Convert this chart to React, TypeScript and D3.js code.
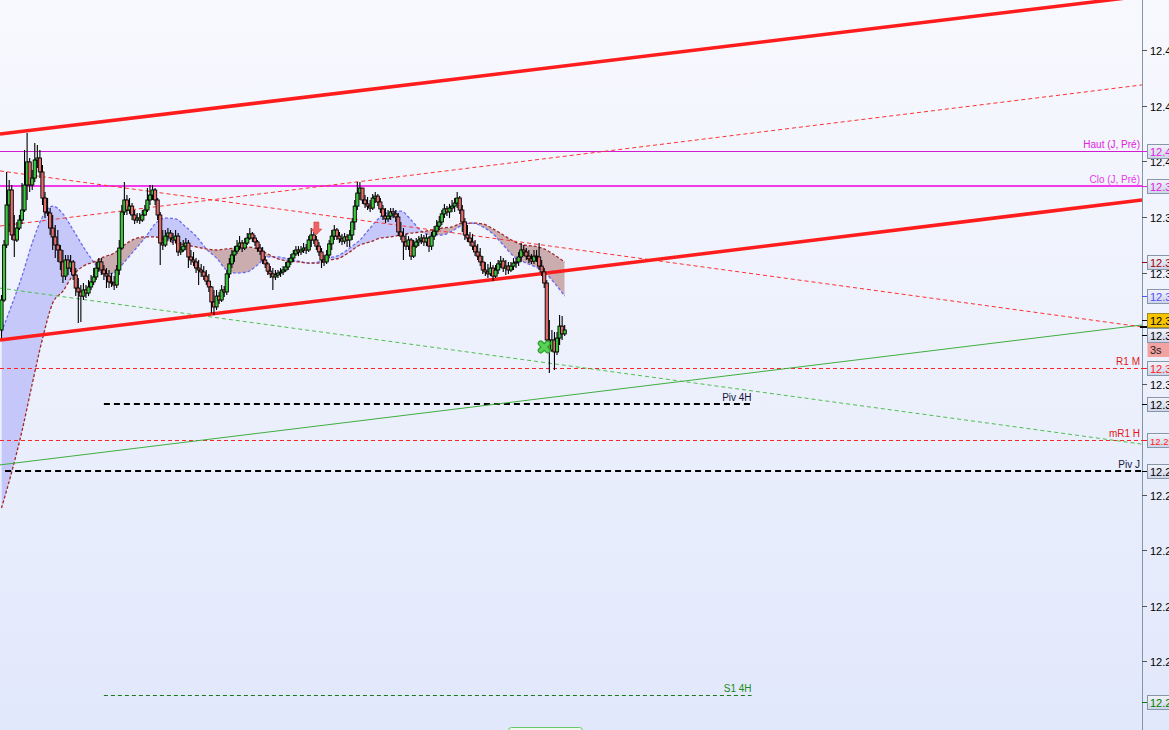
import React from "react";
import * as d3 from "d3";

if (typeof document !== "undefined") {
  document.body.style.margin = "0";
  document.body.style.overflow = "hidden";
}

const W = 1169;
const H = 730;
const AXIS_X = 1142;

// ---------- candles (price) ----------
const firstOpen = 12.3393;
const closes = [
  12.3501,12.3699,12.3843,12.3897,12.3735,12.3717,12.3760,12.3789,12.3825,12.3915,
  12.3998,12.3915,12.3940,12.4005,12.4012,12.3962,12.3868,12.3818,12.3814,12.3760,
  12.3728,12.3699,12.3681,12.3638,12.3587,12.3645,12.3616,12.3638,12.3591,12.3544,
  12.3530,12.3515,12.3537,12.3526,12.3548,12.3566,12.3584,12.3616,12.3638,12.3609,
  12.3595,12.3587,12.3566,12.3562,12.3555,12.3609,12.3688,12.3818,12.3861,12.3825,
  12.3839,12.3807,12.3789,12.3796,12.3789,12.3807,12.3825,12.3861,12.3879,12.3897,
  12.3861,12.3807,12.3706,12.3699,12.3731,12.3742,12.3724,12.3717,12.3731,12.3674,
  12.3681,12.3695,12.3706,12.3656,12.3645,12.3638,12.3616,12.3609,12.3602,12.3587,
  12.3569,12.3548,12.3494,12.3476,12.3515,12.3501,12.3537,12.3530,12.3595,12.3631,
  12.3663,12.3677,12.3695,12.3706,12.3688,12.3706,12.3724,12.3739,12.3724,12.3710,
  12.3688,12.3677,12.3645,12.3631,12.3605,12.3595,12.3584,12.3591,12.3598,12.3602,
  12.3609,12.3620,12.3638,12.3652,12.3667,12.3681,12.3674,12.3681,12.3688,12.3681,
  12.3717,12.3735,12.3717,12.3695,12.3674,12.3645,12.3638,12.3663,12.3703,12.3731,
  12.3753,12.3731,12.3721,12.3713,12.3728,12.3717,12.3735,12.3782,12.3839,12.3886,
  12.3904,12.3861,12.3847,12.3839,12.3832,12.3868,12.3875,12.3854,12.3829,12.3803,
  12.3793,12.3803,12.3818,12.3811,12.3800,12.3746,12.3731,12.3710,12.3695,12.3717,
  12.3659,12.3695,12.3710,12.3717,12.3724,12.3710,12.3724,12.3695,12.3731,12.3749,
  12.3767,12.3782,12.3811,12.3829,12.3818,12.3832,12.3839,12.3850,12.3868,12.3825,
  12.3782,12.3735,12.3724,12.3710,12.3695,12.3674,12.3659,12.3638,12.3609,12.3602,
  12.3595,12.3616,12.3587,12.3609,12.3631,12.3641,12.3616,12.3623,12.3609,12.3623,
  12.3634,12.3638,12.3656,12.3681,12.3674,12.3659,12.3649,12.3641,12.3659,12.3656,
  12.3623,12.3602,12.3562,12.3357,12.3321,12.3357,12.3314,12.3364,12.3407,12.3379,
  12.3393,
];
const highs = [
  12.3519,12.3717,12.3962,12.3933,12.3915,12.3807,12.3782,12.3807,12.3922,12.4041,
  12.4102,12.4012,12.3969,12.4066,12.4059,12.4041,12.3987,12.3890,12.3868,12.3832,
  12.3807,12.3771,12.3753,12.3699,12.3681,12.3663,12.3663,12.3663,12.3645,12.3616,
  12.3580,12.3555,12.3562,12.3555,12.3573,12.3591,12.3616,12.3638,12.3652,12.3652,
  12.3627,12.3616,12.3609,12.3598,12.3587,12.3627,12.3717,12.3843,12.3926,12.3879,
  12.3868,12.3850,12.3825,12.3814,12.3814,12.3825,12.3843,12.3904,12.3915,12.3915,
  12.3904,12.3868,12.3818,12.3753,12.3753,12.3760,12.3753,12.3742,12.3753,12.3742,
  12.3710,12.3717,12.3724,12.3717,12.3681,12.3674,12.3652,12.3645,12.3631,12.3623,
  12.3609,12.3595,12.3551,12.3537,12.3537,12.3530,12.3555,12.3551,12.3609,12.3652,
  12.3681,12.3695,12.3717,12.3731,12.3717,12.3724,12.3742,12.3760,12.3746,12.3735,
  12.3717,12.3703,12.3692,12.3659,12.3638,12.3623,12.3616,12.3609,12.3609,12.3616,
  12.3623,12.3638,12.3652,12.3667,12.3681,12.3695,12.3695,12.3695,12.3706,12.3703,
  12.3731,12.3760,12.3746,12.3731,12.3710,12.3688,12.3663,12.3681,12.3717,12.3753,
  12.3771,12.3760,12.3746,12.3739,12.3742,12.3739,12.3753,12.3796,12.3861,12.3926,
  12.3926,12.3904,12.3879,12.3872,12.3861,12.3883,12.3890,12.3883,12.3868,12.3843,
  12.3832,12.3825,12.3832,12.3832,12.3825,12.3814,12.3782,12.3760,12.3739,12.3731,
  12.3724,12.3717,12.3724,12.3731,12.3739,12.3735,12.3739,12.3731,12.3746,12.3767,
  12.3789,12.3803,12.3825,12.3847,12.3839,12.3847,12.3861,12.3868,12.3890,12.3875,
  12.3843,12.3796,12.3771,12.3746,12.3739,12.3717,12.3703,12.3688,12.3659,12.3638,
  12.3631,12.3638,12.3627,12.3627,12.3645,12.3659,12.3652,12.3645,12.3638,12.3638,
  12.3652,12.3652,12.3674,12.3706,12.3699,12.3688,12.3681,12.3667,12.3681,12.3681,
  12.3706,12.3645,12.3616,12.3573,12.3429,12.3393,12.3386,12.3386,12.3447,12.3443,
  12.3411,
];
const lows = [
  12.3364,12.3494,12.3688,12.3746,12.3717,12.3656,12.3710,12.3753,12.3775,12.3818,
  12.3861,12.3890,12.3897,12.3926,12.3976,12.3940,12.3843,12.3796,12.3803,12.3735,
  12.3681,12.3652,12.3638,12.3609,12.3562,12.3573,12.3591,12.3602,12.3573,12.3515,
  12.3418,12.3422,12.3501,12.3508,12.3515,12.3537,12.3555,12.3573,12.3602,12.3591,
  12.3573,12.3544,12.3544,12.3548,12.3537,12.3544,12.3591,12.3681,12.3807,12.3807,
  12.3811,12.3789,12.3775,12.3778,12.3775,12.3782,12.3803,12.3818,12.3843,12.3861,
  12.3843,12.3789,12.3627,12.3681,12.3692,12.3717,12.3710,12.3699,12.3706,12.3659,
  12.3663,12.3674,12.3681,12.3616,12.3627,12.3623,12.3598,12.3555,12.3584,12.3573,
  12.3555,12.3530,12.3454,12.3447,12.3465,12.3487,12.3494,12.3512,12.3519,12.3580,
  12.3616,12.3638,12.3667,12.3681,12.3674,12.3681,12.3699,12.3717,12.3710,12.3695,
  12.3674,12.3663,12.3631,12.3616,12.3591,12.3580,12.3537,12.3573,12.3580,12.3584,
  12.3591,12.3602,12.3609,12.3627,12.3638,12.3659,12.3659,12.3663,12.3670,12.3667,
  12.3674,12.3692,12.3703,12.3681,12.3659,12.3616,12.3623,12.3631,12.3652,12.3681,
  12.3717,12.3717,12.3706,12.3699,12.3703,12.3692,12.3692,12.3717,12.3753,12.3825,
  12.3861,12.3847,12.3832,12.3825,12.3818,12.3825,12.3850,12.3839,12.3814,12.3789,
  12.3778,12.3782,12.3789,12.3796,12.3782,12.3731,12.3717,12.3645,12.3681,12.3681,
  12.3645,12.3652,12.3688,12.3695,12.3703,12.3695,12.3695,12.3674,12.3681,12.3717,
  12.3735,12.3753,12.3771,12.3796,12.3803,12.3796,12.3818,12.3818,12.3832,12.3811,
  12.3746,12.3717,12.3710,12.3695,12.3681,12.3659,12.3645,12.3623,12.3595,12.3587,
  12.3580,12.3587,12.3569,12.3580,12.3595,12.3616,12.3602,12.3591,12.3595,12.3602,
  12.3609,12.3616,12.3623,12.3638,12.3659,12.3645,12.3634,12.3631,12.3631,12.3638,
  12.3609,12.3587,12.3544,12.3339,12.3238,12.3314,12.3249,12.3303,12.3339,12.3357,
  12.3371,
];

// ---------- moving averages (one value every 4 candles) ----------
const maStep = 4;
const maFast = [
  12.3386,12.3483,12.3587,12.3706,12.3800,12.3839,12.3811,12.3753,12.3692,12.3638,
  12.3595,12.3598,12.3638,12.3681,12.3724,12.3775,12.3796,12.3793,12.3764,12.3731,
  12.3685,12.3652,12.3609,12.3598,12.3602,12.3627,12.3656,12.3656,12.3649,12.3641,
  12.3634,12.3638,12.3652,12.3663,12.3688,12.3717,12.3760,12.3800,12.3818,12.3821,
  12.3789,12.3749,12.3735,12.3735,12.3749,12.3771,12.3778,12.3764,12.3739,12.3699,
  12.3659,12.3638,12.3623,12.3602,12.3562,12.3515,
];
const maSlow = [
  12.2752,12.2882,12.3029,12.3199,12.3361,12.3490,12.3533,12.3591,12.3623,12.3638,
  12.3656,12.3670,12.3699,12.3721,12.3728,12.3728,12.3717,12.3706,12.3699,12.3692,
  12.3685,12.3681,12.3685,12.3688,12.3692,12.3685,12.3667,12.3649,12.3641,12.3638,
  12.3634,12.3634,12.3645,12.3652,12.3674,12.3699,12.3710,12.3724,12.3728,12.3735,
  12.3742,12.3746,12.3753,12.3760,12.3764,12.3778,12.3778,12.3775,12.3757,12.3735,
  12.3713,12.3699,12.3695,12.3685,12.3663,12.3638,
];

// ---------- trend lines: prices at two candle indices ----------
const trendAnchors = [0, 440];
const trendUpperThick = [12.4099, 12.4589];
const trendLowerThick = [12.3358, 12.3855];
const trendRedDashUp = [12.3768, 12.4269];
const trendRedDashDown = [12.3965, 12.3411];
const trendGreenDash = [12.3543, 12.2989];
const trendGreenSolid = [12.2908, 12.3405];

// ---------- horizontal levels ----------
const levelNames = ["Haut (J, Pré)", "Clo (J, Pré)", "R1 M", "Piv 4H", "mR1 H", "Piv J", "S1 4H"];
const levelPrices = [12.4037, 12.3911, 12.3256, 12.3127, 12.2997, 12.2885, 12.2079];
const levelStartIdx: (number | null)[] = [null, null, null, 40, null, 1.4, 40];
const levelEndIdx: (number | null)[] = [null, null, null, 293, null, null, 293];

// ---------- axis ----------
const tickValues = [12.44, 12.42, 12.40, 12.38, 12.36, 12.32, 12.28, 12.26, 12.24, 12.22];
const boxKeys = ["haut", "clo", "maSlow", "maFast", "bid", "last", "r1m", "piv4h", "mr1h", "pivj", "s14h"];
const boxPrices = [12.4037, 12.3911, 12.3638, 12.3515, 12.3429, 12.3375, 12.3256, 12.3127, 12.2997, 12.2885, 12.2054];
const timerLabel = "3s";
const timerPrice = 12.3321;

// ---------- signals ----------
const arrowIdx = 123;
const arrowPrice = 12.3735;
const crossIdx = 212;
const crossPrice = 12.3332;

// ---------- styles ----------
const levelStyle: Record<string, { stroke: string; width: number; dash?: string; text: string }> = {
  "Haut (J, Pré)": { stroke: "#d21ad2", width: 1, text: "#e020e0" },
  "Clo (J, Pré)": { stroke: "#f03af0", width: 2, text: "#e83ae8" },
  "R1 M": { stroke: "#ff2424", width: 1, dash: "4 3", text: "#e01818" },
  "Piv 4H": { stroke: "#000000", width: 2, dash: "6 4", text: "#14143c" },
  "mR1 H": { stroke: "#ff2424", width: 1, dash: "4 3", text: "#e01818" },
  "Piv J": { stroke: "#000000", width: 2, dash: "6 4", text: "#14143c" },
  "S1 4H": { stroke: "#1a7a1a", width: 1, dash: "4 3", text: "#1a8a1a" },
};
const boxStyle: Record<string, { text: string; fill?: string; stroke?: string; size?: number }> = {
  haut: { text: "#e020e0" },
  clo: { text: "#e020e0" },
  maSlow: { text: "#a00000" },
  maFast: { text: "#5050ff" },
  bid: { text: "#000000", fill: "#f7c500", stroke: "#a08a30" },
  last: { text: "#000000" },
  r1m: { text: "#ff2020" },
  piv4h: { text: "#000000" },
  mr1h: { text: "#ff2020", size: 9.5 },
  pivj: { text: "#000000" },
  s14h: { text: "#008000" },
};

const x = d3.scaleLinear().domain([0, 220]).range([1.5, 564.7]);
const y = d3.scaleLinear().domain([12.4581, 12.1953]).range([0, H]);

const FONT = "'Liberation Sans', Arial, sans-serif";

function trendPath(p: number[]) {
  const t0 = x.invert(0);
  const t1 = x.invert(AXIS_X);
  const val = (t: number) => p[0] + ((p[1] - p[0]) * (t - trendAnchors[0])) / (trendAnchors[1] - trendAnchors[0]);
  return `M${x(t0)},${y(val(t0))}L${x(t1)},${y(val(t1))}`;
}

export default function App() {
  const maX = (_: number, k: number) => x(k * maStep);
  const fastLine = d3.line<number>().x(maX).y((d) => y(d)).curve(d3.curveMonotoneX)(maFast) || "";
  const slowLine = d3.line<number>().x(maX).y((d) => y(d)).curve(d3.curveMonotoneX)(maSlow) || "";
  const between =
    d3
      .area<number>()
      .x(maX)
      .y0((_, k) => y(maSlow[k]))
      .y1((d) => y(d))
      .curve(d3.curveMonotoneX)(maFast) || "";
  const clipTop =
    d3.area<number>().x(maX).y0(-10).y1((d) => y(d)).curve(d3.curveMonotoneX)(maSlow) || "";
  const clipBottom =
    d3.area<number>().x(maX).y0(H + 10).y1((d) => y(d)).curve(d3.curveMonotoneX)(maSlow) || "";

  const ax = x(arrowIdx);
  const ay = y(arrowPrice);
  const cxp = x(crossIdx);
  const cyp = y(crossPrice);

  return (
    <svg width={W} height={H} style={{ display: "block", fontFamily: FONT }}>
      <defs>
        <linearGradient id="bg" x1="0" y1="0" x2="0" y2="1">
          <stop offset="0" stopColor="#f8f9fe" />
          <stop offset="1" stopColor="#e1e8fb" />
        </linearGradient>
        <linearGradient id="boxg" x1="0" y1="0" x2="0" y2="1">
          <stop offset="0" stopColor="#f2f4fb" />
          <stop offset="1" stopColor="#cdd4e8" />
        </linearGradient>
        <clipPath id="plot">
          <rect x={0} y={0} width={AXIS_X} height={H} />
        </clipPath>
        <clipPath id="cTop">
          <path d={clipTop} />
        </clipPath>
        <clipPath id="cBottom">
          <path d={clipBottom} />
        </clipPath>
      </defs>

      <rect x={0} y={0} width={W} height={H} fill="url(#bg)" />

      <g clipPath="url(#plot)">
        {/* cloud between the moving averages */}
        <path d={between} fill="#b8b9f8" fillOpacity={0.75} clipPath="url(#cTop)" />
        <path d={between} fill="#bf9595" fillOpacity={0.75} clipPath="url(#cBottom)" />
        <path d={fastLine} fill="none" stroke="#6a6af0" strokeWidth={1.3} strokeDasharray="3 2" />
        <path d={slowLine} fill="none" stroke="#a02828" strokeWidth={1.3} strokeDasharray="3 2" />

        {/* horizontal levels */}
        {levelNames.map((n, i) => {
          const s = levelStyle[n];
          const x1 = levelStartIdx[i] === null ? 0 : x(levelStartIdx[i] as number);
          const x2 = levelEndIdx[i] === null ? AXIS_X : x(levelEndIdx[i] as number);
          const yy = Math.round(y(levelPrices[i])) + (s.width === 1 ? 0.5 : 0);
          return (
            <g key={n}>
              <line x1={x1} x2={x2} y1={yy} y2={yy} stroke={s.stroke} strokeWidth={s.width} strokeDasharray={s.dash} />
            </g>
          );
        })}

        {/* trend lines */}
        <path d={trendPath(trendGreenSolid)} stroke="#3fae3f" strokeWidth={1} fill="none" />
        <path d={trendPath(trendGreenDash)} stroke="#4cc04c" strokeWidth={1} strokeDasharray="4 3" fill="none" />
        <path d={trendPath(trendRedDashDown)} stroke="#ff3030" strokeWidth={1} strokeDasharray="4 3" fill="none" />
        <path d={trendPath(trendRedDashUp)} stroke="#ff3030" strokeWidth={1} strokeDasharray="4 3" fill="none" />
        <path d={trendPath(trendUpperThick)} stroke="#ff1c1c" strokeWidth={3.5} fill="none" />
        <path d={trendPath(trendLowerThick)} stroke="#ff1c1c" strokeWidth={3.5} fill="none" />

        {/* candles */}
        {closes.map((c, i) => {
          const o = i === 0 ? firstOpen : closes[i - 1];
          const up = c >= o;
          const cx = x(i);
          const top = y(Math.max(o, c));
          const bot = y(Math.min(o, c));
          return (
            <g key={i}>
              <line x1={cx} x2={cx} y1={y(highs[i])} y2={y(lows[i])} stroke="#000" strokeWidth={1.1} />
              <rect
                x={cx - 1.6}
                y={top}
                width={3.2}
                height={Math.max(bot - top, 1)}
                fill={up ? "#3cc83c" : "#e26c6c"}
                stroke="#000"
                strokeWidth={0.9}
              />
            </g>
          );
        })}

        {/* signals */}
        <path
          d={`M${ax},${ay}L${ax - 5.5},${ay - 6}L${ax - 2.5},${ay - 6}L${ax - 2.5},${ay - 13}L${ax + 2.5},${ay - 13}L${ax + 2.5},${ay - 6}L${ax + 5.5},${ay - 6}Z`}
          fill="#f06262"
          stroke="#d84848"
          strokeWidth={0.6}
        />
        <g strokeLinecap="round">
          <path d={`M${cxp - 3.5},${cyp - 3.5}L${cxp + 3.5},${cyp + 3.5}M${cxp + 3.5},${cyp - 3.5}L${cxp - 3.5},${cyp + 3.5}`} stroke="#2f9f2f" strokeWidth={6} />
          <path d={`M${cxp - 3.5},${cyp - 3.5}L${cxp + 3.5},${cyp + 3.5}M${cxp + 3.5},${cyp - 3.5}L${cxp - 3.5},${cyp + 3.5}`} stroke="#55d455" strokeWidth={3.6} />
        </g>

        {/* level labels */}
        {levelNames.map((n, i) => {
          const s = levelStyle[n];
          const x2 = levelEndIdx[i] === null ? AXIS_X - 2 : x(levelEndIdx[i] as number);
          return (
            <text key={n} x={x2} y={y(levelPrices[i]) - 3} textAnchor="end" fontSize={10} fill={s.text}>
              {n}
            </text>
          );
        })}
      </g>

      {/* axis */}
      <line x1={AXIS_X + 0.5} x2={AXIS_X + 0.5} y1={0} y2={H} stroke="#8595a8" strokeWidth={1} />
      {tickValues.map((t) => {
        const yy = Math.round(y(t)) + 0.5;
        return (
          <g key={t}>
            <line x1={AXIS_X} x2={AXIS_X + 5} y1={yy} y2={yy} stroke="#555" />
            <text x={1150} y={yy + 4} fontSize={11} fill="#000">
              {d3.format(".2f")(t)}
            </text>
          </g>
        );
      })}
      <line x1={AXIS_X - 2} x2={AXIS_X + 5} y1={Math.round(y(trendGreenSolid[1]))} y2={Math.round(y(trendGreenSolid[1]))} stroke="#000" strokeWidth={2} />

      {boxKeys.map((k, i) => {
        const s = boxStyle[k];
        const yy = Math.round(y(boxPrices[i])) + 0.5;
        return (
          <g key={k}>
            <line x1={AXIS_X} x2={AXIS_X + 5} y1={yy} y2={yy} stroke={s.text} />
            <rect x={1147.5} y={yy - 7} width={30} height={14} fill={s.fill || "url(#boxg)"} stroke={s.stroke || "#8796a8"} strokeWidth={1} />
            <text x={1150} y={yy + 4} fontSize={s.size || 11} fill={s.text}>
              {d3.format(".4f")(boxPrices[i])}
            </text>
          </g>
        );
      })}
      <g>
        <rect x={1147.5} y={Math.round(y(timerPrice)) - 7} width={22} height={14} fill="#f3a2a2" />
        <text x={1150} y={Math.round(y(timerPrice)) + 4} fontSize={11} fill="#222">
          {timerLabel}
        </text>
      </g>

      {/* bottom scroll handle */}
      <rect x={508.5} y={727.5} width={74} height={12} rx={3} fill="#eef8ee" stroke="#66c866" strokeWidth={1} />
    </svg>
  );
}
